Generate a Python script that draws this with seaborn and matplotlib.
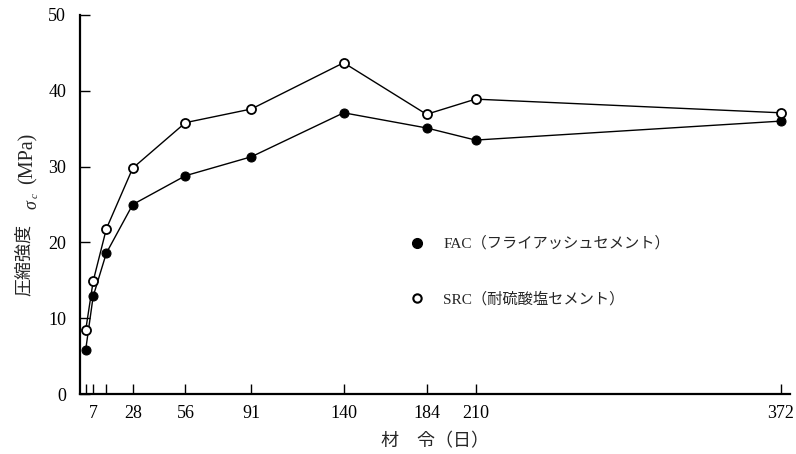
import matplotlib
matplotlib.use("Agg")
import matplotlib.pyplot as plt
from matplotlib.lines import Line2D
import seaborn as sns
import pandas as pd

# Age (days) and compressive strength (MPa)
age_days = [3, 7, 14, 28, 56, 91, 140, 184, 210, 372]
fac_strength = [5.8, 12.9, 18.6, 25.0, 28.8, 31.3, 37.1, 35.1, 33.5, 36.0]
src_strength = [8.4, 14.9, 21.8, 29.8, 35.8, 37.6, 43.7, 36.9, 38.9, 37.1]

tick_days = [3, 7, 14, 28, 56, 91, 140, 184, 210, 372]
tick_labels = ["", "7", "", "28", "56", "91", "140", "184", "210", "372"]

fac_label = "FAC（フライアッシュセメント）"
src_label = "SRC（耐硫酸塩セメント）"

sns.set_theme(style="ticks")
fonts = ["Liberation Serif", "Noto Sans CJK JP", "DejaVu Sans"]
plt.rcParams["font.family"] = fonts

df = pd.DataFrame({
    "age": age_days * 2,
    "strength": fac_strength + src_strength,
    "cement": ["FAC"] * len(age_days) + ["SRC"] * len(age_days),
})

W, H = 796, 454
fig = plt.figure(figsize=(W / 100, H / 100), dpi=100)
ax = fig.add_axes([0.1005, 0.132, 0.892, 0.835])

sns.lineplot(data=df[df.cement == "FAC"], x="age", y="strength", ax=ax,
             color="black", lw=1.0, marker="o", markersize=6.5,
             markerfacecolor="black", markeredgecolor="black", legend=False)
sns.lineplot(data=df[df.cement == "SRC"], x="age", y="strength", ax=ax,
             color="black", lw=1.0, marker="o", markersize=6.5,
             markerfacecolor="white", markeredgecolor="black",
             markeredgewidth=1.3, legend=False)

ax.set_xlim(0, 377)
ax.set_ylim(0, 50)
ax.set_xticks(tick_days)
ax.set_xticklabels(tick_labels)
ax.set_yticks([0, 10, 20, 30, 40, 50])
ax.tick_params(direction="in", length=7, width=1.0, labelsize=13, colors="black")
ax.tick_params(axis="x", pad=8)
ax.tick_params(axis="y", pad=10)
for side in ("top", "right"):
    ax.spines[side].set_visible(False)
for side in ("left", "bottom"):
    ax.spines[side].set_linewidth(1.6)
    ax.spines[side].set_color("black")

ax.set_xlabel("材　令（日）", fontsize=13, labelpad=8)
ax.set_ylabel("")

# Vertical y-axis title assembled from pieces on a shared baseline
# (italic sigma with subscript c)
def ylab(text, ystart, xbase=31, size=13, **kw):
    fig.text(xbase / W, 1 - ystart / H, text, rotation=90,
             rotation_mode="anchor", ha="left", va="baseline",
             fontsize=size, family=fonts, **kw)

ylab("圧縮強度", 296, xbase=29)
ylab("σ", 209, xbase=36, style="italic")
ylab("c", 198, xbase=38, size=8, style="italic")
ylab("(MPa)", 184, xbase=33, size=14.5)

handles = [
    Line2D([], [], ls="none", marker="o", markersize=7, color="black",
           markerfacecolor="black"),
    Line2D([], [], ls="none", marker="o", markersize=6, color="black",
           markerfacecolor="white", markeredgewidth=1.5),
]
ax.legend(handles, [fac_label, src_label], loc="upper left",
          bbox_to_anchor=(0.445, 0.452), frameon=False, fontsize=11,
          labelspacing=2.65, handletextpad=1.2, handlelength=1.0)

fig.savefig("out.png", dpi=100)
